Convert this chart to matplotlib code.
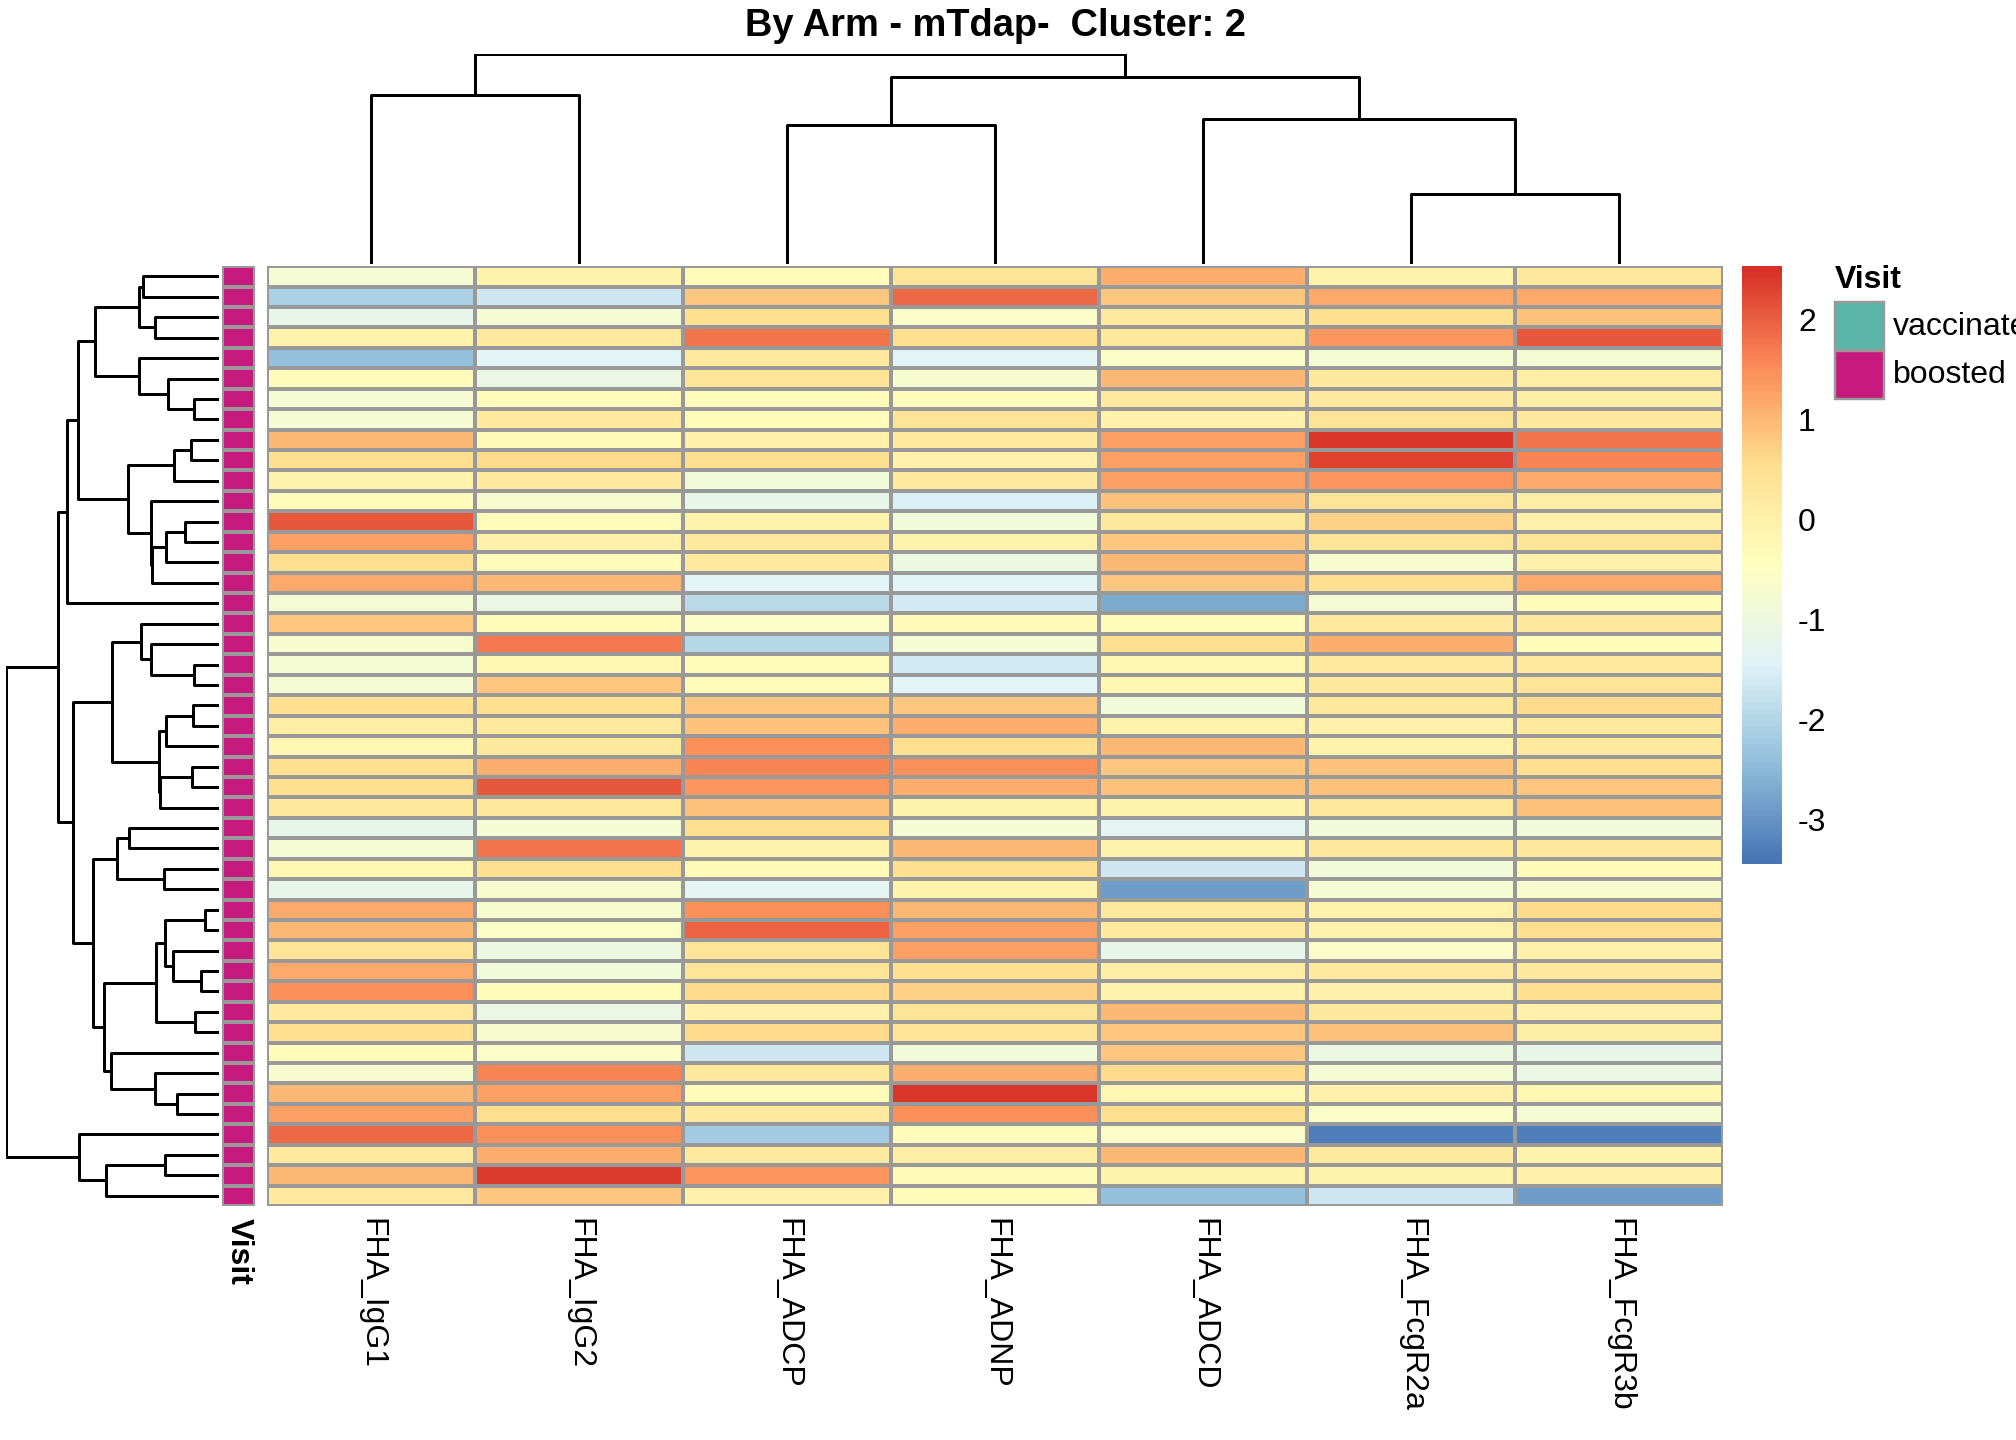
import numpy as np
import matplotlib
matplotlib.use("Agg")
import matplotlib.pyplot as plt
from matplotlib.colors import LinearSegmentedColormap
from matplotlib.patches import Rectangle

plt.rcParams['font.family'] = ['Liberation Sans', 'DejaVu Sans']

columns = ["FHA_IgG1", "FHA_IgG2", "FHA_ADCP", "FHA_ADNP", "FHA_ADCD", "FHA_FcgR2a", "FHA_FcgR3b"]
values = [
    [-0.8, -0.1, -0.4, 0.4, 1.1, -0.1, 0.3],
    [-2.1, -1.7, 0.8, 1.9, 0.8, 1.2, 1.2],
    [-1.2, -0.8, 0.5, -0.6, 0.2, 0.5, 0.9],
    [-0.1, 0.2, 1.8, 0.5, 0.3, 1.4, 2.1],
    [-2.4, -1.4, 0.2, -1.4, -0.6, -0.8, -0.8],
    [-0.4, -1.1, 0.4, -0.7, 1.0, 0.3, 0.1],
    [-0.8, -0.4, -0.4, -0.4, 0.2, 0.2, 0.1],
    [-0.8, 0.2, -0.4, 0.4, 0.0, 0.4, 0.3],
    [1.0, -0.3, 0.0, 0.2, 1.3, 2.45, 1.8],
    [0.5, 0.6, 0.5, 0.0, 1.3, 2.3, 1.6],
    [-0.1, 0.2, -0.9, 0.2, 1.3, 1.4, 1.2],
    [-0.4, -0.7, -1.2, -1.5, 0.9, 0.4, 0.1],
    [2.1, -0.4, -0.1, -0.9, 0.3, 0.7, 0.0],
    [1.3, 0.0, 0.2, -0.1, 0.8, 0.4, 0.4],
    [0.5, -0.4, 0.2, -1.0, 1.0, -0.7, 0.0],
    [1.2, 1.0, -1.4, -1.4, 0.8, 0.5, 1.2],
    [-0.8, -1.1, -1.9, -1.6, -2.7, -0.8, -0.4],
    [0.8, -0.4, -0.6, -0.3, -0.4, 0.2, 0.3],
    [-0.7, 1.7, -2.0, -0.8, 0.5, 1.1, -0.4],
    [-0.8, -0.2, -0.4, -1.6, -0.2, 0.2, 0.2],
    [-0.8, 0.8, -0.4, -1.4, -0.2, 0.3, 0.4],
    [0.5, 0.5, 0.8, 0.8, -0.9, 0.3, 0.6],
    [0.1, 0.2, 0.9, 1.1, -0.1, 0.0, 0.2],
    [-0.2, 0.3, 1.5, 0.5, 1.0, -0.1, 0.2],
    [0.5, 1.1, 1.6, 1.5, 0.8, 0.9, 0.5],
    [0.5, 2.1, 1.4, 1.1, 0.9, 0.9, 0.8],
    [0.3, 0.3, 0.9, -0.1, -0.1, 0.3, 0.9],
    [-1.2, -0.8, 0.5, -0.8, -1.3, -0.9, -0.9],
    [-0.8, 1.8, -0.1, 1.0, -0.1, 0.3, 0.3],
    [-0.2, 0.5, -0.3, 0.5, -1.7, -0.9, -0.3],
    [-1.2, -0.7, -1.3, -0.1, -2.9, -0.8, -0.7],
    [1.2, -0.7, 1.5, 1.0, 0.2, -0.1, 0.6],
    [1.0, -0.6, 1.95, 1.3, 0.2, -0.1, 0.5],
    [0.4, -1.0, 0.4, 1.3, -1.2, -0.6, 0.0],
    [1.2, -0.9, 0.4, 0.5, 0.1, 0.2, 0.3],
    [1.5, -0.4, 0.6, 0.7, -0.1, 0.0, 0.5],
    [0.2, -1.1, 0.0, 0.4, 1.0, 0.3, 0.0],
    [0.5, -0.7, 0.6, 0.4, 0.8, 0.9, 0.1],
    [-0.4, -0.6, -1.7, -0.9, 0.8, -1.0, -1.2],
    [-0.7, 1.6, 0.3, 1.1, 0.6, -0.8, -1.1],
    [1.0, 1.3, -0.4, 2.45, -0.2, 0.0, -0.2],
    [1.3, 0.5, 0.2, 1.5, 0.5, -0.6, -0.8],
    [1.9, 1.5, -2.2, -0.4, -0.6, -3.3, -3.3],
    [0.2, 1.1, 0.2, 0.1, 1.0, 0.2, -0.1],
    [1.0, 2.4, 1.4, -0.3, -0.1, -0.1, 0.0],
    [0.2, 0.8, 0.0, -0.4, -2.4, -1.7, -2.9],
]
visit_levels = ["vaccinated", "boosted"]
visit_colors = ["#5BB5A8", "#C71A7E"]
vmin, vmax = -3.45, 2.53
cbar_ticks = [-3, -2, -1, 0, 1, 2]

M = np.array(values)
nr, nc = M.shape

cmap = LinearSegmentedColormap.from_list(
    "p", ["#4575B4", "#91BFDB", "#E0F3F8", "#FFFFBF", "#FEE090", "#FC8D59", "#D73027"], N=100)

def adjacent_linkage(X):
    clusters = [[i] for i in range(len(X))]
    pos = [i + 0.5 for i in range(len(X))]
    hts = [0.0] * len(X)
    links = []
    while len(clusters) > 1:
        best = None
        for k in range(len(clusters) - 1):
            a, b = clusters[k], clusters[k + 1]
            d = max(np.linalg.norm(X[i] - X[j]) for i in a for j in b)
            if best is None or d < best[0]:
                best = (d, k)
        d, k = best
        d = max(d, hts[k], hts[k + 1])
        links.append((pos[k], hts[k], pos[k + 1], hts[k + 1], d))
        clusters[k:k + 2] = [clusters[k] + clusters[k + 1]]
        pos[k:k + 2] = [(pos[k] + pos[k + 1]) / 2]
        hts[k:k + 2] = [d]
    return links, hts[0]

W, H = 1568.0, 1120.0
def ax_at(x0, y0, x1, y1):
    return fig.add_axes([x0 / W, 1 - y1 / H, (x1 - x0) / W, (y1 - y0) / H])

fig = plt.figure(figsize=(14, 10), dpi=144)

ax = ax_at(208, 207, 1340, 938)
ax.pcolormesh(np.arange(nc + 1), np.arange(nr + 1), M, cmap=cmap, vmin=vmin, vmax=vmax,
              edgecolors="#999999", linewidth=1.2)
ax.set_xlim(0, nc); ax.set_ylim(nr, 0)
ax.set_xticks(np.arange(nc) + 0.5)
ax.set_xticklabels(columns, rotation=270, fontsize=16, va="top", ha="center")
ax.tick_params(length=0, pad=6)
ax.set_yticks([])
for s in ax.spines.values():
    s.set_visible(False)

axa = ax_at(173, 207, 198, 938)
axa.pcolormesh([0, 1], np.arange(nr + 1), np.ones((nr, 1)),
               cmap=LinearSegmentedColormap.from_list("v", [visit_colors[1], visit_colors[1]]),
               edgecolors="#999999", linewidth=1.2)
axa.set_xlim(0, 1); axa.set_ylim(nr, 0)
axa.set_yticks([]); axa.set_xticks([0.5])
axa.set_xticklabels(["Visit"], rotation=270, fontsize=16, fontweight="bold", va="top", ha="center")
axa.tick_params(length=0, pad=6)
for s in axa.spines.values():
    s.set_visible(False)

links, top = adjacent_linkage(M)
axr = ax_at(5, 207, 170, 938)
for p1, h1, p2, h2, d in links:
    axr.plot([h1, d, d, h2], [p1, p1, p2, p2], color="black", lw=1.5, solid_capstyle="butt")
axr.set_xlim(top, 0); axr.set_ylim(nr, 0); axr.axis("off")

links, top = adjacent_linkage(M.T)
axc = ax_at(208, 42, 1340, 205)
for p1, h1, p2, h2, d in links:
    axc.plot([p1, p1, p2, p2], [h1, d, d, h2], color="black", lw=1.5, solid_capstyle="butt")
axc.set_xlim(0, nc); axc.set_ylim(0, top); axc.axis("off")

axb = ax_at(1355, 207, 1386, 672)
grad = np.linspace(vmin, vmax, 200).reshape(-1, 1)
axb.imshow(grad, aspect="auto", cmap=cmap, vmin=vmin, vmax=vmax, origin="lower",
           extent=[0, 1, vmin, vmax])
axb.set_xticks([])
axb.yaxis.tick_right()
axb.set_yticks(cbar_ticks)
axb.set_yticklabels([str(t) for t in cbar_ticks], fontsize=16)
axb.tick_params(length=0, pad=8)
for s in axb.spines.values():
    s.set_visible(False)

fig.text(1427 / W, 1 - 218 / H, "Visit", fontsize=16, fontweight="bold", va="center", ha="left")
for i, (lab, col) in enumerate(zip(visit_levels, visit_colors)):
    y0 = 235 + i * 38
    fig.patches.append(Rectangle((1427 / W, 1 - (y0 + 37) / H), 38 / W, 37 / H,
                                 transform=fig.transFigure, facecolor=col,
                                 edgecolor="#999999", lw=1.2))
    fig.text(1472 / W, 1 - (y0 + 19) / H, lab, fontsize=16, va="center", ha="left")

fig.text(774 / W, 1 - 20 / H, "By Arm - mTdap-  Cluster: 2", fontsize=19,
         fontweight="bold", ha="center", va="center")

fig.savefig("out.png", dpi=144)
